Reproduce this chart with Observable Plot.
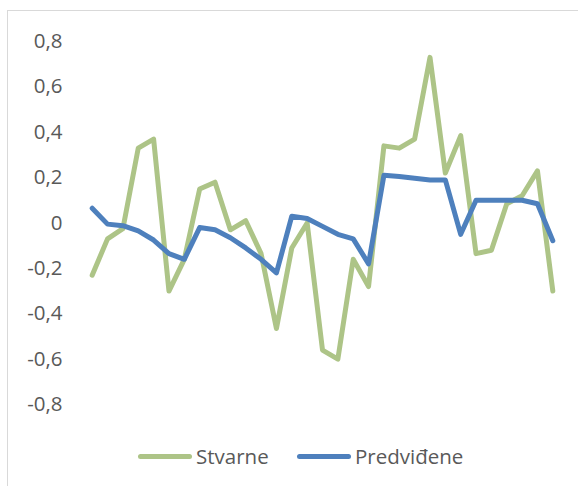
<!DOCTYPE html>
<html>
<head>
<meta charset="utf-8">
<script src="https://cdn.jsdelivr.net/npm/d3@7"></script>
<script src="https://cdn.jsdelivr.net/npm/@observablehq/plot@0.6"></script>
<style>
  html, body { margin: 0; padding: 0; background: #fff; overflow: hidden; }
  #wrap { position: relative; width: 578px; height: 486px; overflow: hidden; font-family: "Open Sans", "Liberation Sans", Arial, sans-serif; }
  #frame { position: absolute; left: 7px; top: 10px; width: 620px; height: 520px; border: 1.5px solid #d9d9d9; box-sizing: border-box; }
  #chart { position: absolute; left: 0; top: 0; }
  .leg { position: absolute; top: 441px; height: 30px; font-size: 20.5px; color: #595959; display: flex; align-items: center; white-space: nowrap; }
  .sw { display: inline-block; width: 54px; height: 5px; border-radius: 3px; margin-right: 4px; }
</style>
</head>
<body>
<div id="wrap">
  <div id="frame"></div>
  <div id="chart"></div>
  <div class="leg" style="left:138px"><span class="sw" style="background:#ADC487"></span>Stvarne</div>
  <div class="leg" style="left:297px"><span class="sw" style="background:#4E80BD"></span>Predviđene</div>
</div>
<script>
const index = d3.range(1, 32);
const stvarne = [-0.23, -0.07, -0.025, 0.33, 0.37, -0.30, -0.16, 0.15, 0.18, -0.03,
  0.01, -0.135, -0.465, -0.11, 0.0, -0.56, -0.60, -0.16, -0.28, 0.34,
  0.33, 0.37, 0.73, 0.22, 0.385, -0.135, -0.12, 0.085, 0.12, 0.23, -0.30];
const predvidjene = [0.065, -0.005, -0.012, -0.035, -0.075, -0.135, -0.16, -0.02, -0.03, -0.065,
  -0.11, -0.16, -0.22, 0.03, 0.02, -0.015, -0.05, -0.07, -0.18, 0.21,
  0.205, 0.197, 0.19, 0.19, -0.05, 0.10, 0.10, 0.10, 0.10, 0.085, -0.078];
const yTicks = [-0.8, -0.6, -0.4, -0.2, 0, 0.2, 0.4, 0.6, 0.8];

const green = "#ADC487";
const blue = "#4E80BD";

const fmt = d => d === 0 ? "0" : d.toFixed(1).replace(".", ",");

const chart = Plot.plot({
  width: 578,
  height: 486,
  marginLeft: 84,
  marginRight: 18,
  marginTop: 41,
  marginBottom: 82,
  style: { fontFamily: "Open Sans, Liberation Sans, Arial, sans-serif", background: "transparent", color: "#595959" },
  x: { domain: [0.5, 31.5], axis: null },
  y: { domain: [-0.8, 0.8], axis: null },
  marks: [
    Plot.axisY(yTicks, { tickSize: 0, tickPadding: 22, tickFormat: fmt, fontSize: 20.5, fill: "#595959", label: null }),
    Plot.lineY(stvarne, { x: (d, i) => index[i], y: d => d, stroke: green, strokeWidth: 5, strokeLinejoin: "round", strokeLinecap: "round" }),
    Plot.lineY(predvidjene, { x: (d, i) => index[i], y: d => d, stroke: blue, strokeWidth: 5, strokeLinejoin: "round", strokeLinecap: "round" })
  ]
});
document.getElementById("chart").appendChild(chart);
</script>
</body>
</html>
